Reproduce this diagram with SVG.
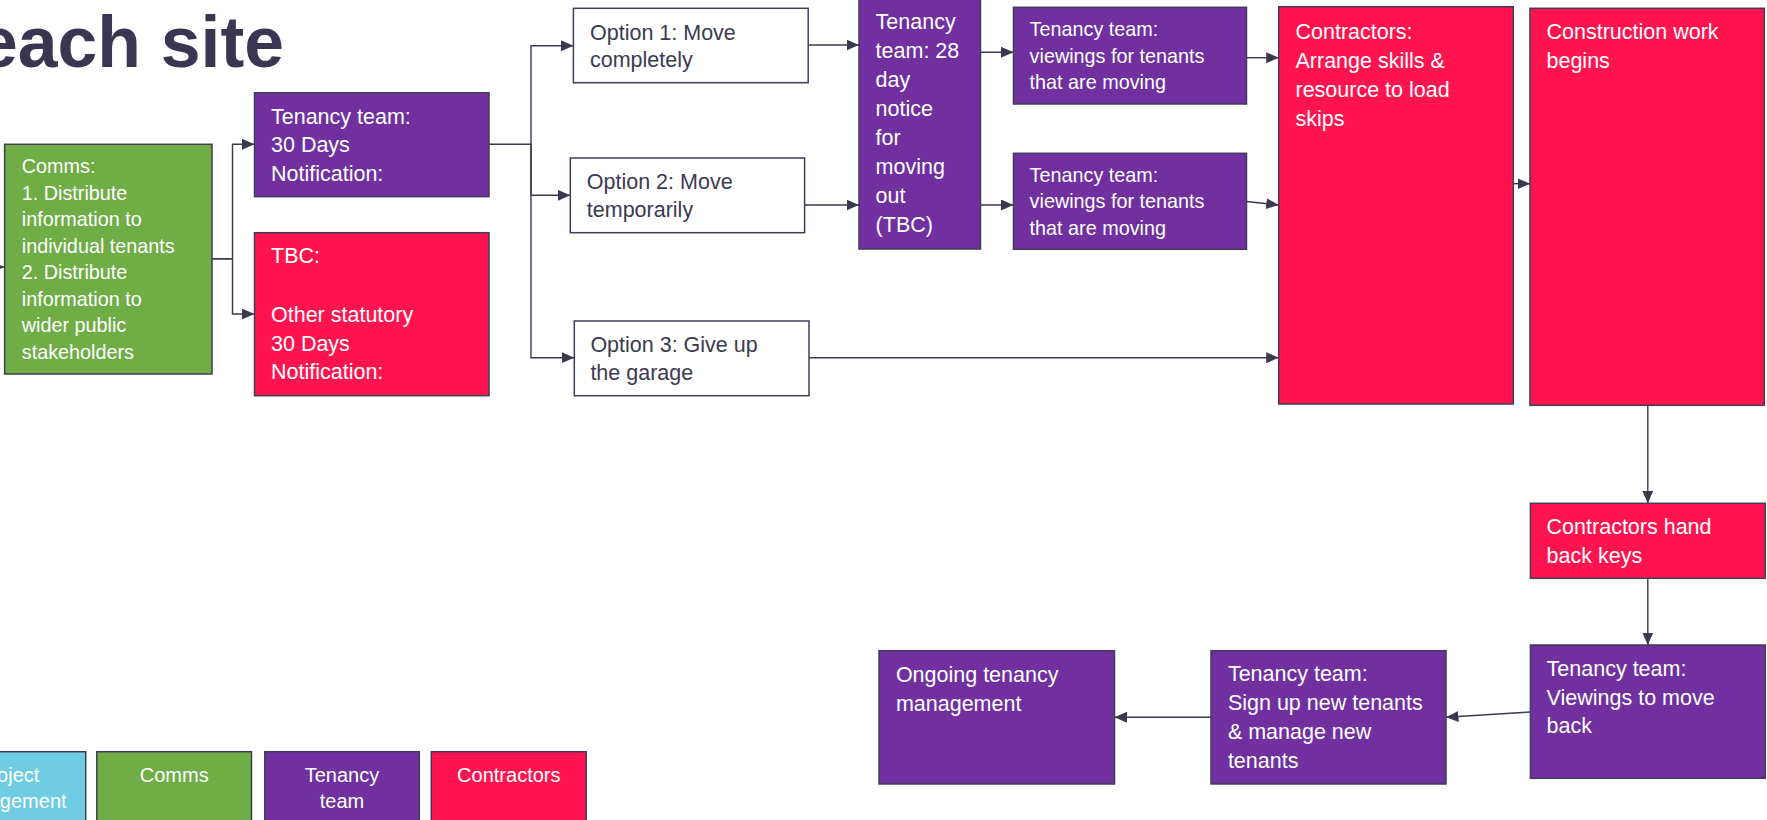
<svg xmlns="http://www.w3.org/2000/svg" width="1767" height="820" viewBox="0 0 1767 820">
<defs>
<style>
.box{stroke:#3F3D57;stroke-width:1.5}
.g{fill:#70AD47}
.p{fill:#7030A0}
.r{fill:#FF1450}
.c{fill:#70CCE2}
.w{fill:#FFFFFF}
text{font-family:"Liberation Sans",Arial,sans-serif}
.tw{fill:#FFFFFF}
.td{fill:#3B3A4F}
.s24{font-size:21.5px}
.s22{font-size:19.8px}
.leg{font-size:20px;text-anchor:middle;fill:#FFFFFF}
.conn path{fill:none;stroke:#3B3950;stroke-width:1.4;marker-end:url(#ah)}
</style>
<marker id="ah" markerUnits="userSpaceOnUse" markerWidth="13" markerHeight="12" refX="12.5" refY="5.5" orient="auto">
<path d="M0,0 L12.5,5.5 L0,11 z" fill="#3B3950"/>
</marker>
</defs>
<rect width="1767" height="820" fill="#FFFFFF"/>

<text id="title" x="-22" y="67" font-size="73" font-weight="bold" fill="#3B3551" textLength="306" lengthAdjust="spacingAndGlyphs">each site</text>

<g class="conn" id="connectors">
<path d="M-20,267 H4.6"/>
<path d="M212,258.7 H232.5 V144.3 H254.5"/>
<path d="M212,258.7 H232.5 V314 H254.5"/>
<path d="M489,144.3 H531 V45.7 H573.4"/>
<path d="M531,144.3 V195.3 H570.3"/>
<path d="M531,144.3 V357.7 H574.3"/>
<path d="M808.2,45 H859"/>
<path d="M805,205 H859"/>
<path d="M980.5,52.3 H1013.5"/>
<path d="M980.5,205 H1013.5"/>
<path d="M1247,57.7 H1278.7"/>
<path d="M1246.5,201.5 L1278.7,205"/>
<path d="M809,357.7 H1278.7"/>
<path d="M1513.3,183.7 H1530"/>
<path d="M1647.8,405.3 V503.3"/>
<path d="M1647.8,578.3 V645"/>
<path d="M1530.4,712 L1446,717.3"/>
<path d="M1211,717.3 H1114.5"/>
</g>

<g id="comms">
<rect class="box g" x="4.6" y="144.3" width="207.4" height="229.7"/>
<text class="tw s22" x="21.8"><tspan x="21.8" y="173">Comms:</tspan><tspan x="21.8" y="199.5">1. Distribute</tspan><tspan x="21.8" y="226">information to</tspan><tspan x="21.8" y="252.5">individual tenants</tspan><tspan x="21.8" y="279">2. Distribute</tspan><tspan x="21.8" y="305.5">information to</tspan><tspan x="21.8" y="332">wider public</tspan><tspan x="21.8" y="358.5">stakeholders</tspan></text>
</g>

<g id="tenancy30">
<rect class="box p" x="254.5" y="92.7" width="234.5" height="104"/>
<text class="tw s24"><tspan x="271" y="123.5">Tenancy team:</tspan><tspan x="271" y="152">30 Days</tspan><tspan x="271" y="180.5">Notification:</tspan></text>
</g>

<g id="tbc">
<rect class="box r" x="254.5" y="232.7" width="234.5" height="163"/>
<text class="tw s24"><tspan x="271" y="263.3">TBC:</tspan><tspan x="271" y="321.5">Other statutory</tspan><tspan x="271" y="350.5">30 Days</tspan><tspan x="271" y="379.3">Notification:</tspan></text>
</g>

<g id="opt1">
<rect class="box w" x="573.4" y="8.3" width="234.8" height="74.4"/>
<text class="td s24"><tspan x="590" y="39.5">Option 1: Move</tspan><tspan x="590" y="67">completely</tspan></text>
</g>

<g id="opt2">
<rect class="box w" x="570.3" y="158" width="234.3" height="74.7"/>
<text class="td s24"><tspan x="586.8" y="189.3">Option 2: Move</tspan><tspan x="586.8" y="216.7">temporarily</tspan></text>
</g>

<g id="opt3">
<rect class="box w" x="574.3" y="321" width="234.7" height="74.7"/>
<text class="td s24"><tspan x="590.4" y="351.7">Option 3: Give up</tspan><tspan x="590.4" y="380">the garage</tspan></text>
</g>

<g id="notice28">
<rect class="box p" x="859" y="-2" width="121.5" height="251"/>
<text class="tw s24"><tspan x="875.6" y="29.3">Tenancy</tspan><tspan x="875.6" y="58.2">team: 28</tspan><tspan x="875.6" y="87.1">day</tspan><tspan x="875.6" y="116">notice</tspan><tspan x="875.6" y="144.9">for</tspan><tspan x="875.6" y="173.8">moving</tspan><tspan x="875.6" y="202.7">out</tspan><tspan x="875.6" y="231.6">(TBC)</tspan></text>
</g>

<g id="view1">
<rect class="box p" x="1013.5" y="7.3" width="233" height="96.7"/>
<text class="tw s22"><tspan x="1029.6" y="36">Tenancy team:</tspan><tspan x="1029.6" y="62.5">viewings for tenants</tspan><tspan x="1029.6" y="88.8">that are moving</tspan></text>
</g>

<g id="view2">
<rect class="box p" x="1013.5" y="153.3" width="233" height="96"/>
<text class="tw s22"><tspan x="1029.6" y="181.7">Tenancy team:</tspan><tspan x="1029.6" y="208.3">viewings for tenants</tspan><tspan x="1029.6" y="235">that are moving</tspan></text>
</g>

<g id="contractors">
<rect class="box r" x="1278.7" y="6.7" width="234.6" height="397.3"/>
<text class="tw s24"><tspan x="1295.5" y="38.5">Contractors:</tspan><tspan x="1295.5" y="67.5">Arrange skills &amp;</tspan><tspan x="1295.5" y="96.5">resource to load</tspan><tspan x="1295.5" y="125.5">skips</tspan></text>
</g>

<g id="construction">
<rect class="box r" x="1530" y="8.3" width="234.3" height="397"/>
<text class="tw s24"><tspan x="1546.5" y="39.3">Construction work</tspan><tspan x="1546.5" y="68.3">begins</tspan></text>
</g>

<g id="keys">
<rect class="box r" x="1530.4" y="503.3" width="234.8" height="75"/>
<text class="tw s24"><tspan x="1546.6" y="534">Contractors hand</tspan><tspan x="1546.6" y="562.7">back keys</tspan></text>
</g>

<g id="viewback">
<rect class="box p" x="1530.4" y="645" width="234.8" height="133.3"/>
<text class="tw s24"><tspan x="1546.6" y="675.7">Tenancy team:</tspan><tspan x="1546.6" y="704.5">Viewings to move</tspan><tspan x="1546.6" y="733.3">back</tspan></text>
</g>

<g id="signup">
<rect class="box p" x="1211" y="650.7" width="235" height="133.3"/>
<text class="tw s24"><tspan x="1227.9" y="680.7">Tenancy team:</tspan><tspan x="1227.9" y="709.9">Sign up new tenants</tspan><tspan x="1227.9" y="739">&amp; manage new</tspan><tspan x="1227.9" y="768.2">tenants</tspan></text>
</g>

<g id="ongoing">
<rect class="box p" x="879" y="650.7" width="235.5" height="133.3"/>
<text class="tw s24"><tspan x="895.9" y="681.7">Ongoing tenancy</tspan><tspan x="895.9" y="710.7">management</tspan></text>
</g>

<g id="legend-pm">
<rect class="box c" x="-69.3" y="751.7" width="155" height="90"/>
<text class="leg"><tspan x="8.2" y="781.5">Project</tspan><tspan x="8.2" y="807.5">management</tspan></text>
</g>
<g id="legend-comms">
<rect class="box g" x="96.8" y="751.7" width="154.7" height="90"/>
<text class="leg"><tspan x="174.2" y="781.5">Comms</tspan></text>
</g>
<g id="legend-tenancy">
<rect class="box p" x="264.8" y="751.7" width="154.5" height="90"/>
<text class="leg"><tspan x="342" y="781.5">Tenancy</tspan><tspan x="342" y="807.5">team</tspan></text>
</g>
<g id="legend-contractors">
<rect class="box r" x="431.3" y="751.7" width="154.9" height="90"/>
<text class="leg"><tspan x="508.8" y="781.5">Contractors</tspan></text>
</g>
</svg>
